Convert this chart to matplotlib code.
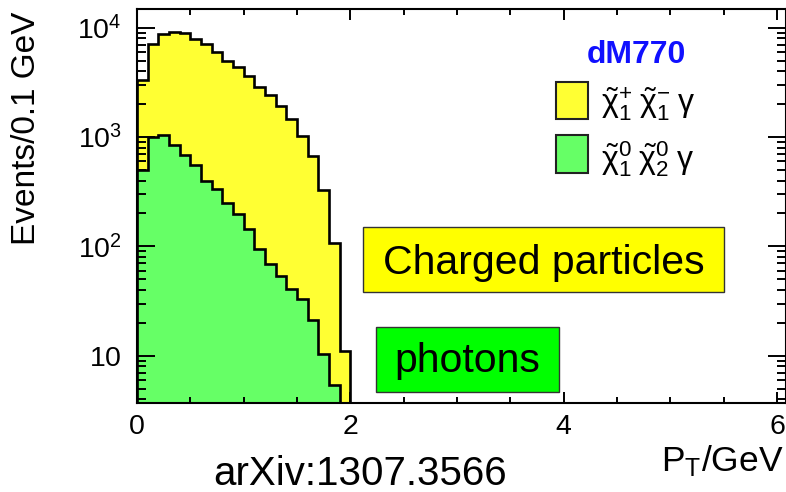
import numpy as np
import matplotlib
matplotlib.use("Agg")
import matplotlib.pyplot as plt
from matplotlib.patches import Rectangle
from matplotlib.ticker import FixedLocator, LogLocator, MultipleLocator, NullFormatter

plt.rcParams['font.family'] = ['Liberation Sans', 'DejaVu Sans']
plt.rcParams['mathtext.fontset'] = 'custom'
plt.rcParams['mathtext.rm'] = 'Liberation Sans'
plt.rcParams['mathtext.it'] = 'Liberation Sans:italic'
plt.rcParams['mathtext.bf'] = 'Liberation Sans:bold'

# events per 0.1 GeV bin, starting at PT = 0
bin_width = 0.1
charged = [3340, 7070, 8700, 9200, 8890, 7840, 7060, 5970, 5000, 4320,
           3630, 2870, 2400, 1905, 1460, 1030, 668, 331, 108, 11]
photons = [497, 1000, 1050, 851, 690, 550, 395, 336, 247, 199,
           143, 95.5, 69.7, 53.7, 41.2, 32.9, 21.4, 10.4, 5.46]

ytick_vals = [10, 100, 1000, 10000]
ytick_labels = [r'$\mathregular{10}$', r'$\mathregular{10^{2}}$',
                r'$\mathregular{10^{3}}$', r'$\mathregular{10^{4}}$']
xtick_vals = [0, 2, 4, 6]

W, H = 786, 492


def fx(px):
    return px / W


def fy(py):
    return 1 - py / H


fig = plt.figure(figsize=(W / 100, H / 100), dpi=100)
ax = fig.add_axes([fx(137), fy(403), (785.5 - 137) / W, (403 - 9.3) / H])

edges_c = np.arange(len(charged) + 1) * bin_width
edges_p = np.arange(len(photons) + 1) * bin_width

ax.stairs(charged, edges_c, baseline=1e-3, fill=True, color='#ffff33', lw=0)
ax.stairs(charged, edges_c, baseline=1e-3, color='black', lw=1.9)
ax.stairs(photons, edges_p, baseline=1e-3, fill=True, color='#66ff66', lw=0)
ax.stairs(photons, edges_p, baseline=1e-3, color='black', lw=1.9)

ax.set_yscale('log')
ax.set_xlim(0, 6.08)
ax.set_ylim(3.7, 14700)

ax.yaxis.set_major_locator(FixedLocator(ytick_vals))
ax.set_yticklabels(ytick_labels)
ax.yaxis.set_minor_locator(LogLocator(base=10, subs=np.arange(2, 10)))
ax.yaxis.set_minor_formatter(NullFormatter())
ax.set_xticks(xtick_vals)
ax.xaxis.set_minor_locator(MultipleLocator(0.5))

ax.tick_params(which='both', direction='in', top=True, right=True,
               width=1.4, labelsize=20.5)
ax.tick_params(axis='y', which='major', length=13, pad=11)
ax.tick_params(axis='y', which='minor', length=6.5)
ax.tick_params(axis='x', which='major', length=8, pad=8)
ax.tick_params(axis='x', which='minor', length=4)
for s in ax.spines.values():
    s.set_linewidth(1.5)

# axis titles
fig.text(fx(26.5), fy(128), 'Events/0.1 GeV', rotation=90, fontsize=24,
         ha='center', va='center')
fig.text(fx(783), fy(471.7), r'$\mathregular{P_T}$/GeV', fontsize=25.5,
         ha='right', va='baseline')
fig.text(fx(213), fy(485), 'arXiv:1307.3566', fontsize=29,
         ha='left', va='baseline')

# legend
fig.text(fx(636), fy(63.3), 'dM770', color='#1010ff', fontsize=23,
         fontweight='bold', ha='center', va='baseline')
fig.add_artist(Rectangle((fx(556), fy(119.3)), (587.7 - 556) / W,
                         (119.3 - 81.7) / H, transform=fig.transFigure,
                         fc='#ffff33', ec='#222222', lw=1.5))
fig.add_artist(Rectangle((fx(556), fy(172.7)), (587.7 - 556) / W,
                         (172.7 - 135) / H, transform=fig.transFigure,
                         fc='#66ff66', ec='#222222', lw=1.5))
fig.text(fx(601), fy(104),
         r'$\tilde{\mathrm{\chi}}^{+}_{1}\;\tilde{\mathrm{\chi}}^{-}_{1}\;\mathrm{\gamma}$',
         fontsize=23, ha='left', va='center')
fig.text(fx(601), fy(159),
         r'$\tilde{\mathrm{\chi}}^{0}_{1}\;\tilde{\mathrm{\chi}}^{0}_{2}\;\mathrm{\gamma}$',
         fontsize=23, ha='left', va='center')

# annotation boxes
fig.add_artist(Rectangle((fx(362.7), fy(291.7)), (724.3 - 362.7) / W,
                         (291.7 - 227.3) / H, transform=fig.transFigure,
                         fc='#ffff00', ec='#333333', lw=1, zorder=5))
fig.text(fx(543.5), fy(274.3), 'Charged particles', fontsize=29.5,
         ha='center', va='baseline', zorder=6)
fig.add_artist(Rectangle((fx(376), fy(392.3)), (559 - 376) / W,
                         (392.3 - 327.3) / H, transform=fig.transFigure,
                         fc='#00ff00', ec='#333333', lw=1, zorder=5))
fig.text(fx(467.5), fy(371.7), 'photons', fontsize=29.5,
         ha='center', va='baseline', zorder=6)

fig.savefig('out.png', dpi=100)
